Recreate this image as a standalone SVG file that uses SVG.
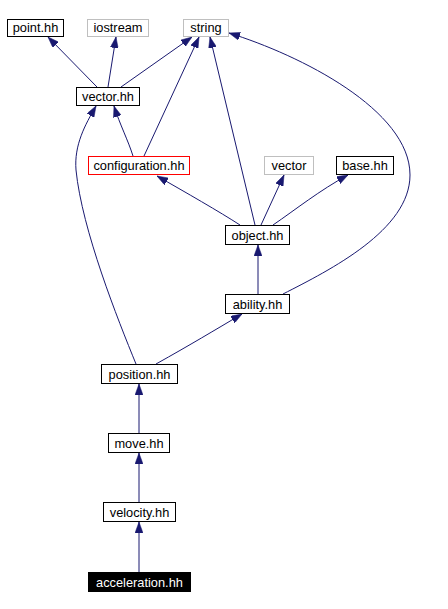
<svg xmlns="http://www.w3.org/2000/svg" width="448" height="609" viewBox="0 0 448 609">
<style>
rect.n{fill:#fff;stroke:#000;stroke-width:1}
rect.g{fill:#fff;stroke:#bfbfbf;stroke-width:1}
rect.r{fill:#fff;stroke:#ff0000;stroke-width:1}
rect.b{fill:#000;stroke:#000;stroke-width:1}
text{font-family:"Liberation Sans",Arial,sans-serif;font-size:12.8px;text-anchor:middle;fill:#000}
text.w{fill:#fff}
#edges path{fill:none;stroke:#191970;stroke-width:1;marker-end:url(#ah)}
</style>
<defs>
<marker id="ah" markerUnits="userSpaceOnUse" markerWidth="11" markerHeight="8" refX="11" refY="4" orient="auto">
<path d="M0,0 L11,4 L0,8 z" fill="#191970" stroke="#191970" stroke-width="0.5"/>
</marker>
</defs>
<rect width="448" height="609" fill="#fff"/>
<g id="edges">
<path d="M97,87 L48,37"/>
<path d="M108,87 L116,37"/>
<path d="M121,87 L192,37"/>
<path d="M133,156 C128,140 120,125 114,106"/>
<path d="M144,156 L199,37"/>
<path d="M255,225 L210,37"/>
<path d="M283,294 C330,270 410,230 410,175 C410,110 300,55 229,33"/>
<path d="M240,225 C220,212 185,192 157,176"/>
<path d="M261,225 L284,175"/>
<path d="M273,225 C295,210 320,190 348,175"/>
<path d="M258,294 L258,245"/>
<path d="M156,364 C190,345 215,330 242,314"/>
<path d="M136,364 C118,320 82,230 76,170 C74,145 85,125 96,106"/>
<path d="M139,433 L139,384"/>
<path d="M139,502 L139,453"/>
<path d="M139,572 L139,522"/>
</g>
<g id="point"><rect class="n" x="7.5" y="19.5" width="56" height="17"/><text x="35.5" y="32">point.hh</text></g>
<g id="iostream"><rect class="g" x="87.5" y="19.5" width="61" height="17"/><text x="118" y="32">iostream</text></g>
<g id="string"><rect class="g" x="183.5" y="19.5" width="45" height="17"/><text x="206" y="32">string</text></g>
<g id="vector_hh"><rect class="n" x="76.5" y="87.5" width="63" height="18"/><text x="108" y="101">vector.hh</text></g>
<g id="configuration"><rect class="r" x="88.5" y="156.5" width="101" height="18"/><text x="139" y="170">configuration.hh</text></g>
<g id="vector"><rect class="g" x="264.5" y="156.5" width="49" height="18"/><text x="289" y="170">vector</text></g>
<g id="base"><rect class="n" x="336.5" y="156.5" width="57" height="18"/><text x="365" y="170">base.hh</text></g>
<g id="object"><rect class="n" x="225.5" y="225.5" width="64" height="19"/><text x="257.5" y="239.5">object.hh</text></g>
<g id="ability"><rect class="n" x="225.5" y="294.5" width="64" height="19"/><text x="257.5" y="308.5">ability.hh</text></g>
<g id="position"><rect class="n" x="101.5" y="364.5" width="76" height="19"/><text x="139.5" y="378.5">position.hh</text></g>
<g id="move"><rect class="n" x="108.5" y="433.5" width="61" height="19"/><text x="139" y="447.5">move.hh</text></g>
<g id="velocity"><rect class="n" x="103.5" y="502.5" width="72" height="19"/><text x="139.5" y="516.5">velocity.hh</text></g>
<g id="acceleration"><rect class="b" x="88.5" y="572.5" width="102" height="19"/><text class="w" x="139.5" y="586.5">acceleration.hh</text></g>
</svg>
